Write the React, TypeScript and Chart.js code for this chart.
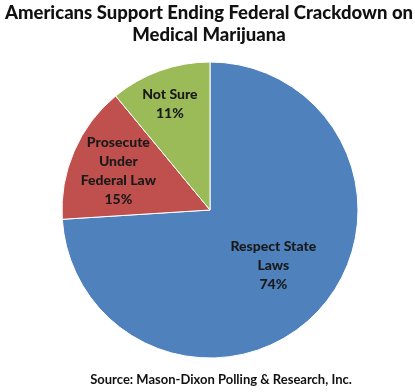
import React, { useEffect, useRef } from "react";
import { Chart, registerables } from "chart.js";

Chart.register(...registerables);

const categories = ["Respect State Laws", "Prosecute Under Federal Law", "Not Sure"];
const labelLines = [["Respect State", "Laws", "74%"], ["Prosecute", "Under", "Federal Law", "15%"], ["Not Sure", "11%"]];
const values = [74, 15, 11];
const colors = ["#4F81BD", "#C0504D", "#9BBB59"];
const titleLines = ["Americans Support Ending Federal Crackdown on", "Medical Marijuana"];
const sourceText = "Source: Mason-Dixon Polling & Research, Inc.";

const FONT = "Lato, 'Open Sans', sans-serif";

const textPlugin = {
  id: "texts",
  afterDraw(chart: any) {
    const ctx = chart.ctx;
    ctx.save();
    ctx.fillStyle = "#111";
    ctx.textAlign = "center";
    ctx.textBaseline = "middle";
    ctx.font = `900 18.5px ${FONT}`;
    ctx.fillText(titleLines[0], 209, 13);
    ctx.fillText(titleLines[1], 209, 35);
    ctx.font = `bold 13px ${FONT}`;
    ctx.fillText(sourceText, 221, 380);

    const meta = chart.getDatasetMeta(0);
    const fracs = [0.55, 0.66, 0.76];
    ctx.font = `900 14px ${FONT}`;
    ctx.fillStyle = "#1a1a1a";
    meta.data.forEach((arc: any, i: number) => {
      const { x, y, startAngle, endAngle, outerRadius } = arc.getProps(
        ["x", "y", "startAngle", "endAngle", "outerRadius"],
        true
      );
      const mid = (startAngle + endAngle) / 2;
      const r = outerRadius * fracs[i];
      const cx = x + Math.cos(mid) * r + (i === 0 ? 4 : -2);
      const cy = y + Math.sin(mid) * r;
      const lines = labelLines[i];
      const lh = 19;
      const y0 = cy - ((lines.length - 1) * lh) / 2;
      lines.forEach((t, k) => ctx.fillText(t, cx, y0 + k * lh));
    });
    ctx.restore();
  },
};

export default function App() {
  const ref = useRef<HTMLCanvasElement>(null);
  useEffect(() => {
    document.body.style.margin = "0";
    const chart = new Chart(ref.current!, {
      type: "pie",
      data: {
        labels: categories,
        datasets: [
          {
            data: values,
            backgroundColor: colors,
            borderColor: "#ffffff",
            borderWidth: 1,
          },
        ],
      },
      options: {
        animation: false,
        responsive: false,
        layout: { padding: { left: 61.5, right: 56.5, top: 61.5, bottom: 33.5 } },
        plugins: {
          legend: { display: false },
          tooltip: { enabled: false },
          title: { display: false },
        },
      },
      plugins: [textPlugin],
    });
    return () => chart.destroy();
  }, []);
  return (
    <div style={{ width: 415, height: 392, background: "#fff" }}>
      <canvas ref={ref} width={415} height={392} style={{ display: "block" }} />
    </div>
  );
}
